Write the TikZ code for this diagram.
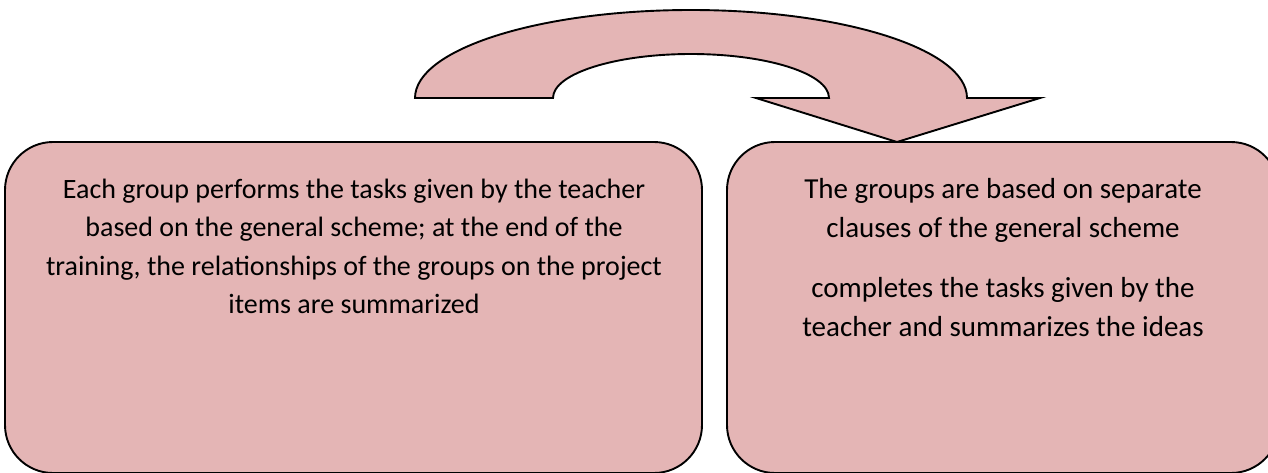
\documentclass[tikz,border=0pt]{standalone}
\usepackage{fontspec}
\setmainfont{Carlito}
\definecolor{boxpink}{HTML}{E4B5B5}
\begin{document}
\begin{tikzpicture}[x=1pt,y=-1pt,
  shapestyle/.style={fill=boxpink,draw=black,line width=1.9pt},
  boxstyle/.style={shapestyle,rounded corners=48pt,inner sep=0pt},
  txt/.style={align=center,inner sep=0pt,anchor=base}]
\useasboundingbox (0,0) rectangle (1268,472);
\clip (0,0) rectangle (1268,472);
% curved arrow
\draw[shapestyle,line join=miter] (415,98) arc[start angle=180,end angle=360,x radius=276,y radius=88]
  -- (1040,98) -- (897,142) -- (756,98) -- (829,98)
  arc[start angle=0,end angle=-180,x radius=138,y radius=44] -- cycle;
% boxes
\node[boxstyle,minimum width=697pt,minimum height=331pt] (left) at (353.5,307.5) {};
\node[boxstyle,minimum width=552pt,minimum height=331pt] (right) at (1003,307.5) {};
\node[txt,font=\fontsize{28}{38.5}\selectfont] (lefttext) at (354,313.5) {Each group performs the tasks given by the teacher\\based on the general scheme; at the end of the\\training, the relationships of the groups on the project\\items are summarized};
\node[txt,font=\fontsize{29}{38.5}\selectfont] (righttext) at (1003,336) {The groups are based on separate\\clauses of the general scheme\\[22pt]completes the tasks given by the\\teacher and summarizes the ideas};
\end{tikzpicture}
\end{document}
